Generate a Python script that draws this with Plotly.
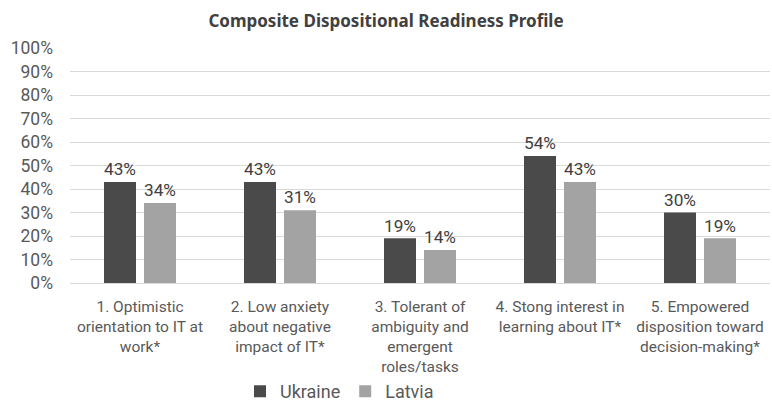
import plotly.graph_objects as go

categories = [
    "1. Optimistic<br>orientation to IT at<br>work*",
    "2. Low anxiety<br>about negative<br>impact of IT*",
    "3. Tolerant of<br>ambiguity and<br>emergent<br>roles/tasks",
    "4. Stong interest in<br>learning about IT*",
    "5. Empowered<br>disposition toward<br>decision-making*",
]
ukraine = [43, 43, 19, 54, 30]
latvia = [34, 31, 14, 43, 19]
y_ticks = list(range(0, 101, 10))

FONT = "Roboto"
TXT = "#595959"

fig = go.Figure()
for name, vals, color in [("Ukraine", ukraine, "#4a4a4a"), ("Latvia", latvia, "#a3a3a3")]:
    fig.add_trace(go.Bar(
        name=name, x=categories, y=vals,
        marker=dict(color=color, line=dict(color=color, width=0)),
        text=[f"{v}%" for v in vals], textposition="outside",
        textfont=dict(family=FONT, size=18, color="#404040"),
        cliponaxis=False,
    ))

fig.update_layout(
    width=772, height=402,
    margin=dict(l=70, r=2, t=48, b=119),
    paper_bgcolor="white", plot_bgcolor="white",
    barmode="group", bargap=0.4286, bargroupgap=0.2,
    title=dict(text="<b>Composite Dispositional Readiness Profile</b>",
               x=0.5, xanchor="center", y=0.948, yanchor="middle",
               font=dict(family="Noto Sans", size=17, color="#404040")),
    font=dict(family=FONT, size=16, color=TXT),
    legend=dict(orientation="h", x=0.385, xanchor="center",
                yref="container", y=0.026, yanchor="middle",
                bgcolor="rgba(0,0,0,0)",
                font=dict(family=FONT, size=18, color=TXT), traceorder="normal",
                itemwidth=30),
    showlegend=True,
)
fig.update_yaxes(
    range=[0, 100], tickvals=y_ticks, ticktext=[f"{t}%" for t in y_ticks],
    showgrid=True, gridcolor="#d9d9d9", gridwidth=1, zeroline=False,
    showline=False, ticks="", ticklabelstandoff=16, automargin=False,
    tickfont=dict(family=FONT, size=17.5, color=TXT),
)
fig.update_xaxes(
    showline=True, linecolor="#d9d9d9", linewidth=1, ticks="", automargin=False,
    ticklabelstandoff=9,
    tickfont=dict(family=FONT, size=15.5, color=TXT), tickangle=0,
)

fig.write_html("out.html")
